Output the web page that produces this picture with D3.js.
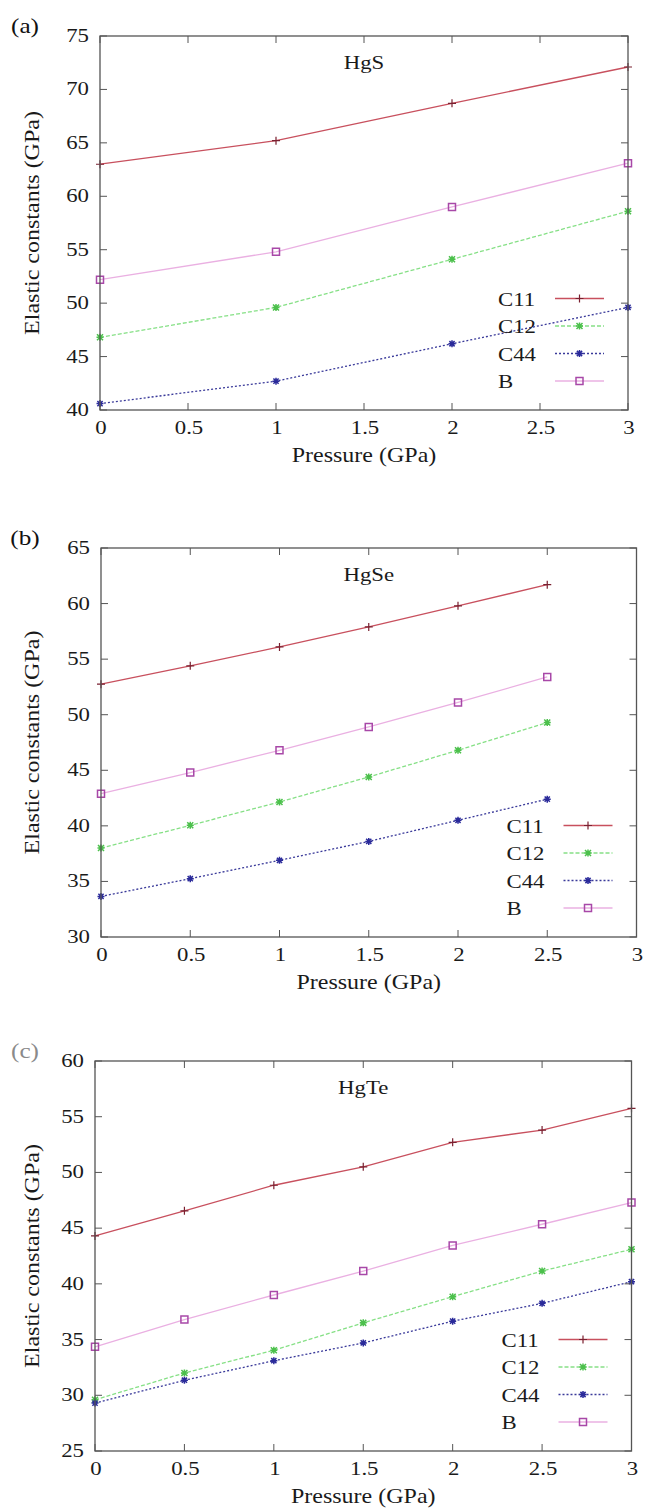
<!DOCTYPE html>
<meta charset="utf-8">
<script src="https://d3js.org/d3.v7.min.js"></script>
<body style="margin:0;background:#fff">
<svg width="646" height="1509"></svg>
<script>
    // series names and legend order
    var seriesNames = ['C11', 'C12', 'C44', 'B'];

    // (a) HgS
    var hgsPressure = [0, 1, 2, 3];
    var hgsC11 = [63.0, 65.2, 68.7, 72.1];
    var hgsC12 = [46.8, 49.6, 54.1, 58.6];
    var hgsC44 = [40.6, 42.7, 46.2, 49.6];
    var hgsB   = [52.2, 54.8, 59.0, 63.1];

    // (b) HgSe
    var hgsePressure = [0, 0.5, 1, 1.5, 2, 2.5];
    var hgseC11 = [52.75, 54.4, 56.1, 57.9, 59.8, 61.7];
    var hgseC12 = [38.0, 40.05, 42.15, 44.4, 46.8, 49.3];
    var hgseC44 = [33.65, 35.25, 36.9, 38.6, 40.5, 42.4];
    var hgseB   = [42.9, 44.8, 46.8, 48.9, 51.1, 53.4];

    // (c) HgTe
    var hgtePressure = [0, 0.5, 1, 1.5, 2, 2.5, 3];
    var hgteC11 = [44.3, 46.55, 48.85, 50.5, 52.7, 53.8, 55.75];
    var hgteC12 = [29.6, 32.0, 34.05, 36.5, 38.85, 41.15, 43.1];
    var hgteC44 = [29.3, 31.35, 33.1, 34.7, 36.65, 38.25, 40.2];
    var hgteB   = [34.35, 36.8, 39.0, 41.15, 43.45, 45.35, 47.3];

    // tick labels
    var xTicks = [0, 0.5, 1, 1.5, 2, 2.5, 3];
    var yTicksA = [40, 45, 50, 55, 60, 65, 70, 75];
    var yTicksB = [30, 35, 40, 45, 50, 55, 60, 65];
    var yTicksC = [25, 30, 35, 40, 45, 50, 55, 60];

    var panels = [
        { tag: '(a)', title: 'HgS', x: hgsPressure, ys: [hgsC11, hgsC12, hgsC44, hgsB], yTicks: yTicksA,
          left: 100, right: 628, top: 36, bottom: 410, tagColor: '#111' },
        { tag: '(b)', title: 'HgSe', x: hgsePressure, ys: [hgseC11, hgseC12, hgseC44, hgseB], yTicks: yTicksB,
          left: 101, right: 636.5, top: 548, bottom: 937, tagColor: '#111' },
        { tag: '(c)', title: 'HgTe', x: hgtePressure, ys: [hgteC11, hgteC12, hgteC44, hgteB], yTicks: yTicksC,
          left: 95, right: 631.5, top: 1061, bottom: 1451, tagColor: '#8a8a8a' }
    ];

    var styles = [
        { line: '#c8505e', mark: '#7a2030', dash: null,  shape: 'plus' },
        { line: '#86e086', mark: '#4cc04c', dash: '4,2', shape: 'cross' },
        { line: '#3a3a9a', mark: '#2a2a9a', dash: '2,2', shape: 'star' },
        { line: '#eab0e2', mark: '#a848a8', dash: null,  shape: 'square' }
    ];

    var svg = d3.select('svg');
    var font = "'Liberation Serif', 'DejaVu Serif', 'Times New Roman', Times, serif";
    var stretch = 1.2;

    function label(g, x, y, s, size, anchor, rot, color){
        g.append('text')
            .attr('transform', 'translate(' + x + ',' + y + ') rotate(' + (rot || 0) + ') scale(' + stretch + ',1)')
            .attr('text-anchor', anchor || 'start')
            .attr('font-family', font)
            .attr('font-size', size)
            .attr('fill', color || '#1a1a1a')
            .text(s);
    }

    function marker(g, shape, cx, cy, color){
        var p;
        if (shape === 'plus') p = 'M-4,0H4M0,-4V4';
        else if (shape === 'cross') p = 'M-3,-3L3,3M-3,3L3,-3M-3.5,0H3.5M0,-3.5V3.5';
        else if (shape === 'star') p = 'M-3.5,0H3.5M0,-3.5V3.5M-2.6,-2.6L2.6,2.6M-2.6,2.6L2.6,-2.6';
        else p = 'M-3.5,-3.5H3.5V3.5H-3.5Z';
        g.append('path')
            .attr('transform', 'translate(' + cx + ',' + cy + ')')
            .attr('d', p)
            .attr('fill', 'none')
            .attr('stroke', color)
            .attr('stroke-width', shape === 'plus' ? 1.2 : 1.5);
    }

    panels.forEach(function(p){
        var g = svg.append('g');
        var x = d3.scaleLinear().domain([0, 3]).range([p.left, p.right]);
        var y = d3.scaleLinear().domain(d3.extent(p.yTicks)).range([p.bottom, p.top]);

        // data lines
        p.ys.forEach(function(vals, i){
            var pts = p.x.map(function(d, j){ return [d, vals[j]]; });
            g.append('path')
                .datum(pts)
                .attr('fill', 'none')
                .attr('stroke', styles[i].line)
                .attr('stroke-width', 1.3)
                .attr('stroke-dasharray', styles[i].dash)
                .attr('d', d3.line().x(function(d){ return x(d[0]); }).y(function(d){ return y(d[1]); }));
        });
        p.ys.forEach(function(vals, i){
            p.x.forEach(function(d, j){ marker(g, styles[i].shape, x(d), y(vals[j]), styles[i].mark); });
        });

        // frame with inward ticks on all sides
        var axisColor = '#555';
        g.append('rect')
            .attr('x', p.left).attr('y', p.top)
            .attr('width', p.right - p.left).attr('height', p.bottom - p.top)
            .attr('fill', 'none').attr('stroke', axisColor).attr('stroke-width', 1.3);

        xTicks.forEach(function(t){
            g.append('line').attr('x1', x(t)).attr('x2', x(t)).attr('y1', p.bottom).attr('y2', p.bottom - 7)
                .attr('stroke', axisColor).attr('stroke-width', 1);
            g.append('line').attr('x1', x(t)).attr('x2', x(t)).attr('y1', p.top).attr('y2', p.top + 7)
                .attr('stroke', axisColor).attr('stroke-width', 1);
            label(g, x(t) + 1, p.bottom + 24, d3.format('')(t), 19, 'middle');
        });
        p.yTicks.forEach(function(t){
            g.append('line').attr('x1', p.left).attr('x2', p.left + 7).attr('y1', y(t)).attr('y2', y(t))
                .attr('stroke', axisColor).attr('stroke-width', 1);
            g.append('line').attr('x1', p.right).attr('x2', p.right - 7).attr('y1', y(t)).attr('y2', y(t))
                .attr('stroke', axisColor).attr('stroke-width', 1);
            label(g, p.left - 11, y(t) + 6, t, 19, 'end');
        });

        // titles and axis labels
        label(g, (p.left + p.right) / 2, p.top + 33, p.title, 19, 'middle');
        label(g, (p.left + p.right) / 2, p.bottom + 52, 'Pressure (GPa)', 20, 'middle');
        label(g, 39, (p.top + p.bottom) / 2, 'Elastic constants (GPa)', 20, 'middle', -90);
        label(g, 25, p.top - 3, p.tag, 21, 'middle', 0, p.tagColor);

        // key, bottom right
        seriesNames.forEach(function(name, i){
            var ry = p.bottom - 29 - (3 - i) * 27.5;
            label(g, p.right - 130, ry + 7, name, 19, 'start');
            g.append('line')
                .attr('x1', p.right - 73).attr('x2', p.right - 24)
                .attr('y1', ry).attr('y2', ry)
                .attr('stroke', styles[i].line).attr('stroke-width', 1.3)
                .attr('stroke-dasharray', styles[i].dash);
            marker(g, styles[i].shape, p.right - 48.5, ry, styles[i].mark);
        });
    });
</script>
</body>
